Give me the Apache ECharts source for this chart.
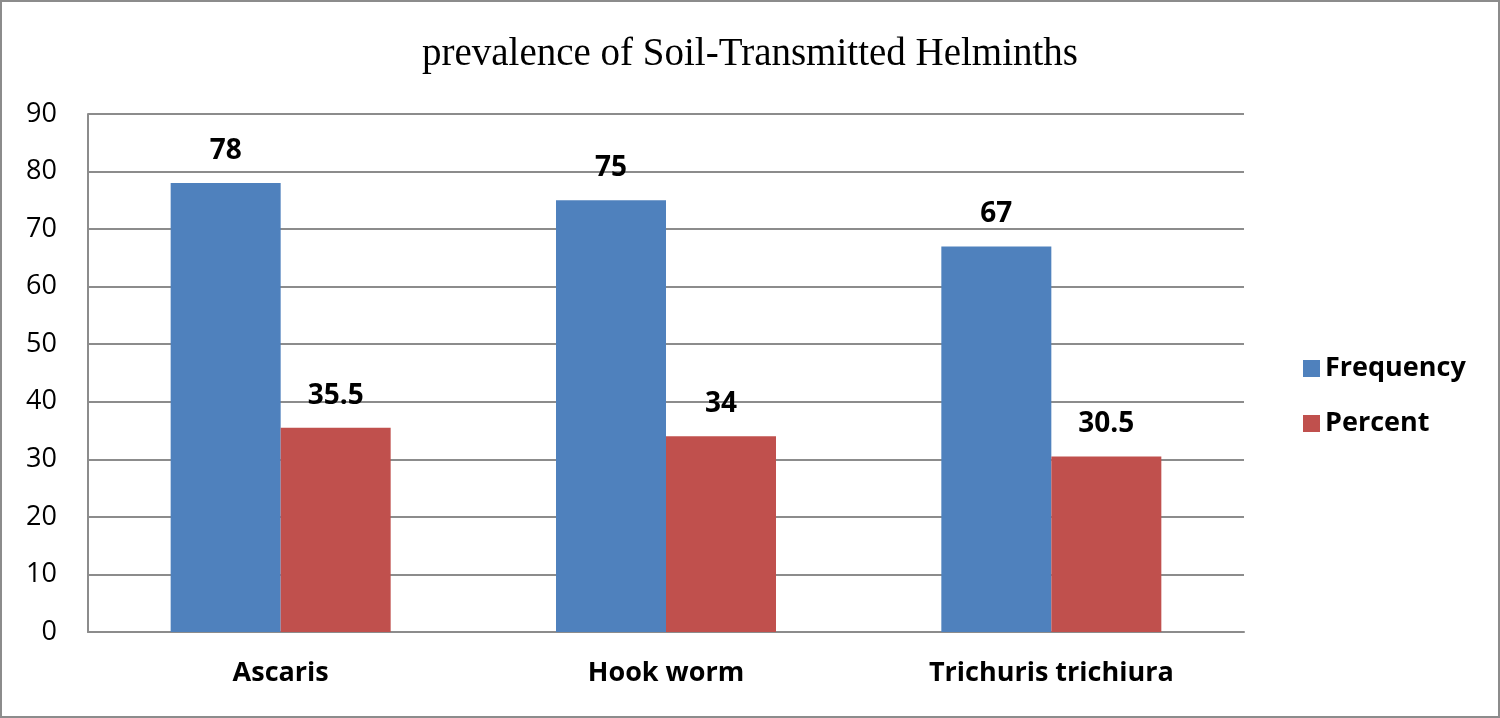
<!DOCTYPE html>
<html lang="en">
<head>
<meta charset="UTF-8">
<title>prevalence of Soil-Transmitted Helminths</title>
<script src="https://cdn.jsdelivr.net/npm/echarts@6/dist/echarts.min.js"></script>
<style>
  html, body { margin: 0; padding: 0; background: #fff; }
  #main { width: 1500px; height: 718px; box-sizing: border-box; border: 2px solid #8c8c8c; }
</style>
</head>
<body>
<div id="main"></div>
<script>
// data
var categories = ['Ascaris', 'Hook worm', 'Trichuris trichiura'];
var frequency = [78, 75, 67];
var percent = [35.5, 34, 30.5];
var yTicks = { min: 0, max: 90, interval: 10 };

var sansFont = '"Open Sans", "Noto Sans", sans-serif';

var myChart = echarts.init(document.getElementById('main'));

var labelStyle = {
    show: true,
    position: 'top',
    distance: 18,
    fontFamily: sansFont,
    fontWeight: 'bold',
    fontSize: 28,
    color: '#000'
};

var option = {
    animation: false,
    title: {
        text: 'prevalence of Soil-Transmitted Helminths',
        left: 'center',
        top: 28,
        textStyle: {
            fontFamily: '"Liberation Serif", "Times New Roman", serif',
            fontWeight: 'normal',
            fontSize: 39,
            color: '#000'
        }
    },
    legend: {
        orient: 'vertical',
        left: 1296,
        top: 348,
        itemWidth: 17,
        itemHeight: 17,
        itemGap: 28,
        icon: 'rect',
        textStyle: {
            fontFamily: sansFont,
            fontWeight: 'bold',
            fontSize: 27,
            color: '#000'
        },
        data: ['Frequency', 'Percent']
    },
    grid: {
        left: 86,
        right: 254,
        top: 112,
        bottom: 84
    },
    xAxis: {
        type: 'category',
        data: categories,
        axisLine: { show: true, lineStyle: { color: '#8c8c8c', width: 2 } },
        axisTick: { show: false },
        axisLabel: {
            margin: 28,
            fontFamily: sansFont,
            fontWeight: 'bold',
            fontSize: 27,
            color: '#000'
        }
    },
    yAxis: {
        type: 'value',
        min: yTicks.min,
        max: yTicks.max,
        interval: yTicks.interval,
        axisLine: { show: true, lineStyle: { color: '#8c8c8c', width: 2 } },
        axisTick: { show: false },
        axisLabel: {
            margin: 31,
            fontFamily: sansFont,
            fontSize: 27,
            color: '#000'
        },
        splitLine: { show: true, lineStyle: { color: '#8c8c8c', width: 2 } }
    },
    series: [{
        name: 'Frequency',
        type: 'bar',
        data: frequency,
        barWidth: 110,
        barGap: '0%',
        itemStyle: { color: '#4F81BD' },
        label: labelStyle
    }, {
        name: 'Percent',
        type: 'bar',
        data: percent,
        barWidth: 110,
        itemStyle: { color: '#C0504D' },
        label: labelStyle
    }]
};

myChart.setOption(option);
</script>
</body>
</html>
